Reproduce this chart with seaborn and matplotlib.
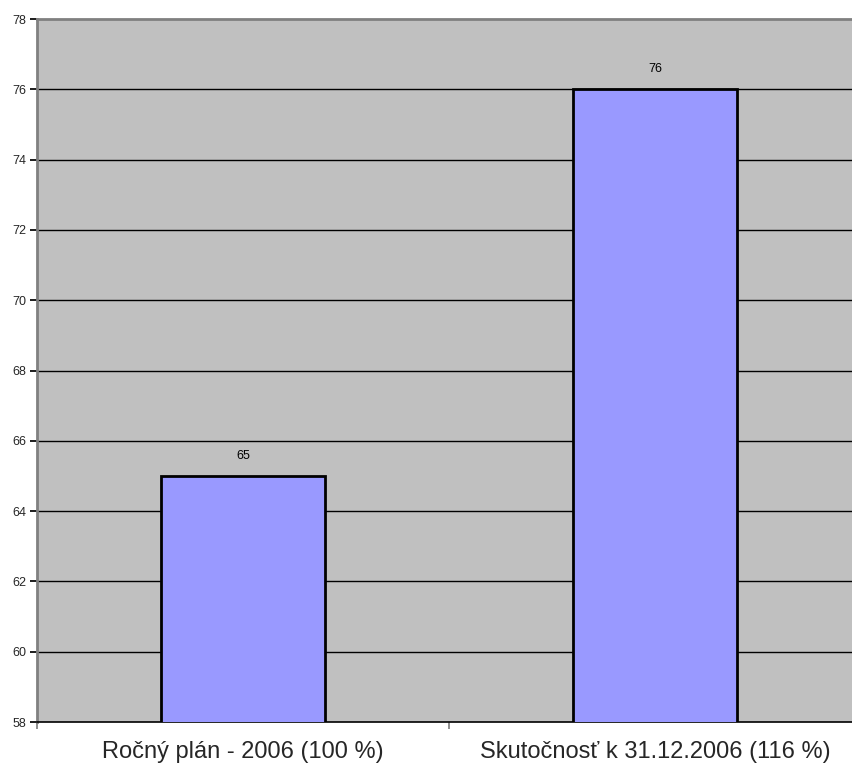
import matplotlib
matplotlib.use("Agg")
import matplotlib.pyplot as plt
import seaborn as sns
import pandas as pd

# --- data ---
categories = ["Ročný plán - 2006 (100 %)", "Skutočnosť k 31.12.2006 (116 %)"]
values = [65, 76]
y_ticks = [58, 60, 62, 64, 66, 68, 70, 72, 74, 76, 78]

df = pd.DataFrame({"kat": categories, "hodnota": values})

sns.set_theme(style="white")
plt.rcParams["font.family"] = ["Liberation Sans", "DejaVu Sans"]

fig = plt.figure(figsize=(8.53, 7.71), dpi=100)
W, H = 853, 771
ax = fig.add_axes([37 / W, (H - 722) / H, (861 - 37) / W, (722 - 19) / H])
ax.set_facecolor("#C0C0C0")

sns.barplot(data=df, x="kat", y="hodnota", color="#9999FF", edgecolor="black",
            linewidth=2, width=0.4, saturation=1, ax=ax, zorder=3)

ax.set_ylim(58, 78)
ax.set_xlim(-0.5, 1.5)
ax.set_yticks(y_ticks)
ax.set_yticklabels([str(t) for t in y_ticks], fontsize=9)
for t in y_ticks[1:-1]:
    ax.axhline(t, color="black", linewidth=1, zorder=1)

for i, v in enumerate(values):
    ax.text(i, v + 0.4, str(v), ha="center", va="bottom", fontsize=9, color="black")

ax.set_xticks([-0.5, 0.5, 1.5], minor=False)
ax.set_xticklabels([])
ax.set_xticks([0, 1], minor=True)
ax.set_xticklabels(categories, minor=True, fontsize=17)
ax.tick_params(axis="x", which="major", length=5, color="gray", direction="out", bottom=True)
ax.tick_params(axis="x", which="minor", length=0, pad=14)
ax.tick_params(axis="y", length=5, color="black", direction="out", left=True, pad=3)
ax.set_xlabel("")
ax.set_ylabel("")

for s in ["top", "left"]:
    ax.spines[s].set_color("#808080")
    ax.spines[s].set_linewidth(2)
ax.spines["bottom"].set_color("black")
ax.spines["bottom"].set_linewidth(1.2)
ax.spines["right"].set_visible(False)

fig.savefig("out.png", dpi=100)
